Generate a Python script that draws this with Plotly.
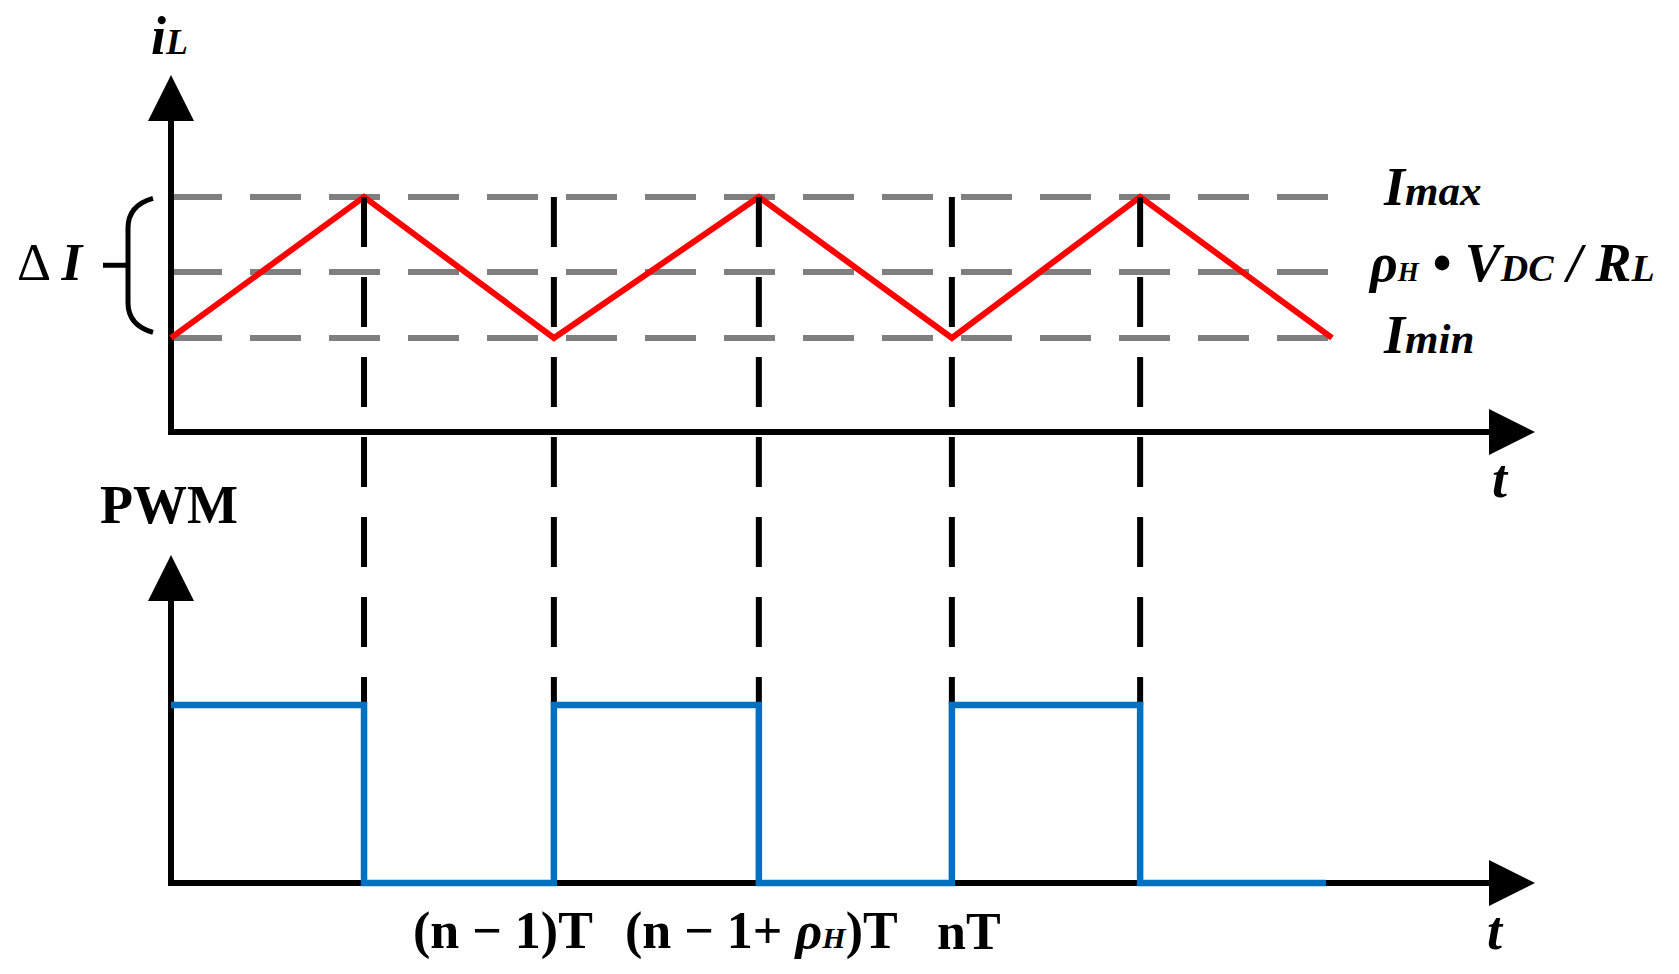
import plotly.graph_objects as go

# ---------------- data ----------------
# switching instants, in units of the switching period T (origin at the axes)
t_switch = [0.0, 0.485, 0.962, 1.477, 1.962, 2.435, 2.917]
# inductor current levels (arbitrary units, t-axis at 0)
I_MIN, I_REF, I_MAX = 0.667, 1.135, 1.667
iL_values = [I_MIN, I_MAX, I_MIN, I_MAX, I_MIN, I_MAX, I_MIN]
# PWM step signal (edges and levels, drawn as an hv step)
pwm_t = [0.0, 0.485, 0.962, 1.477, 1.962, 2.435, 2.902]
pwm_level = [1, 0, 1, 0, 1, 0, 0]
# grey dashed reference levels and their labels
level_values = [I_MAX, I_REF, I_MIN]
level_labels = [
    "<b><i>I<span style='font-size:43px'>max</span></i></b>",
    "<b><i>ρ<span style='font-size:27px'>H</span> • V<span style='font-size:38px'>DC</span> / R<span style='font-size:38px'>L</span></i></b>",
    "<b><i>I<span style='font-size:43px'>min</span></i></b>",
]
# instants marked with black dashed drop lines
mark_t = [0.485, 0.962, 1.477, 1.962, 2.435]
# bottom time labels
tick_t = [0.962, 1.477, 1.962]
tick_text = [
    "<b>(n − 1)T</b>",
    "<b>(n − 1+ <i>ρ<span style='font-size:30px'>H</span></i>)T</b>",
    "<b>nT</b>",
]

# ---------------- layout geometry ----------------
W, H = 1679, 974
X0, SX = 171, 398          # px of t=0, px per T
YI0, SYI = 432, 141        # px of iL=0, px per iL unit
YP0, SYP = 883, 178        # px of PWM=0, px per PWM unit
T_TIP = (1535 - X0) / SX   # time-axis arrow tip
IL_TIP = (YI0 - 75) / SYI  # iL-axis arrow tip
PWM_TIP = (YP0 - 555) / SYP
ARW = 46                   # arrow head length in px

def tx(px):
    return (px - X0) / SX

def iy(px):
    return (YI0 - px) / SYI

def py(px):
    return (YP0 - px) / SYP

def il_to_pwm(v):
    return py(YI0 - v * SYI)

FONT = "Liberation Serif"
BLACK, RED, BLUE, GREY = "#000000", "#FF0000", "#0070C0", "#7F7F7F"

fig = go.Figure()

# grey dashed reference levels
for v in level_values:
    fig.add_trace(go.Scatter(x=[t_switch[0], t_switch[-1]], y=[v, v], mode="lines",
                             line=dict(color=GREY, width=6, dash="51px,28px"),
                             hoverinfo="skip", showlegend=False, yaxis="y"))

# black dashed drop lines (from Imax down to the PWM high level)
for t in mark_t:
    fig.add_trace(go.Scatter(x=[t, t], y=[il_to_pwm(I_MAX), 1], mode="lines",
                             line=dict(color=BLACK, width=6, dash="50px,30px"),
                             hoverinfo="skip", showlegend=False, yaxis="y2"))

# axes (lines up to the arrow heads)
fig.add_trace(go.Scatter(x=[0, 0, T_TIP - ARW / SX], y=[IL_TIP - ARW / SYI, 0, 0], mode="lines",
                         line=dict(color=BLACK, width=6), hoverinfo="skip", showlegend=False, yaxis="y"))
fig.add_trace(go.Scatter(x=[0, 0, T_TIP - ARW / SX], y=[PWM_TIP - ARW / SYP, 0, 0], mode="lines",
                         line=dict(color=BLACK, width=6), hoverinfo="skip", showlegend=False, yaxis="y2"))

# inductor current
fig.add_trace(go.Scatter(x=t_switch, y=iL_values, mode="lines",
                         line=dict(color=RED, width=6), hoverinfo="skip", showlegend=False, yaxis="y"))
# PWM
fig.add_trace(go.Scatter(x=pwm_t, y=pwm_level, mode="lines", line_shape="hv",
                         line=dict(color=BLUE, width=6.5), hoverinfo="skip", showlegend=False, yaxis="y2"))

shapes = []
# arrow heads
for yr, tipv in (("y", IL_TIP), ("y2", PWM_TIP)):
    shapes.append(dict(type="path", xref="x", yref=yr, xsizemode="pixel", ysizemode="pixel",
                       xanchor=0, yanchor=tipv, path="M 0,0 L -23,-46 L 23,-46 Z",
                       fillcolor=BLACK, line=dict(width=0), layer="above"))
    shapes.append(dict(type="path", xref="x", yref=yr, xsizemode="pixel", ysizemode="pixel",
                       xanchor=T_TIP, yanchor=0, path="M 0,0 L -46,23 L -46,-23 Z",
                       fillcolor=BLACK, line=dict(width=0), layer="above"))
# Delta-I brace
span = I_MAX - I_MIN
b_top, b_bot = I_MAX - 0.01 * span, I_MIN + 0.04 * span
b_mid = (b_top + b_bot) / 2
c = 0.21 * span
brace = (f"M -18,{b_top} Q -43,{b_top - 0.05 * span} -43,{b_top - c} "
         f"L -43,{b_bot + c} Q -43,{b_bot + 0.05 * span} -18,{b_bot} "
         f"M -43,{b_mid} L -68,{b_mid}")
shapes.append(dict(type="path", xref="x", yref="y", xsizemode="pixel", xanchor=0,
                   path=brace, line=dict(color=BLACK, width=5)))

ann = []
def label(text, x, y, yref="y", size=54, xanchor="center", xshift=0, yshift=0):
    ann.append(dict(text=text, x=x, y=y, xref="x", yref=yref, showarrow=False,
                    xanchor=xanchor, yanchor="middle", xshift=xshift, yshift=yshift,
                    font=dict(family=FONT, size=size, color=BLACK)))

label("<b><i>i<span style='font-size:36px'>L</span></i></b>", tx(169), iy(36))
label("Δ <b><i>I</i></b>", tx(50), iy(262), size=53)
for v, txt, px in zip(level_values, level_labels, [1381, 1366, 1381]):
    label(txt, tx(px), v, size=54, xanchor="left", yshift={I_MAX: 10, I_REF: 9, I_MIN: 3}[v])
label("<b><i>t</i></b>", tx(1500), iy(479), size=54)
label("<b><i>t</i></b>", tx(1495), py(931), yref="y2", size=54)
label("<b>PWM</b>", tx(169), py(505), yref="y2", size=54)
for t, txt, dx in zip(tick_t, tick_text, [-51, 3, 17]):
    label(txt, t, py(931), yref="y2", size=52, xshift=dx)

fig.update_layout(
    width=W, height=H, margin=dict(l=0, r=0, t=0, b=0),
    paper_bgcolor="white", plot_bgcolor="white",
    xaxis=dict(range=[tx(0), tx(W)], visible=False, fixedrange=True),
    yaxis=dict(range=[iy(H), iy(0)], visible=False, fixedrange=True),
    yaxis2=dict(range=[py(H), py(0)], visible=False, overlaying="y", fixedrange=True),
    shapes=shapes, annotations=ann, showlegend=False,
)

fig.write_html("out.html", include_plotlyjs=True, full_html=True,
               config={"displayModeBar": False},
               post_script="document.body.style.margin='0';document.body.style.overflow='hidden';")
